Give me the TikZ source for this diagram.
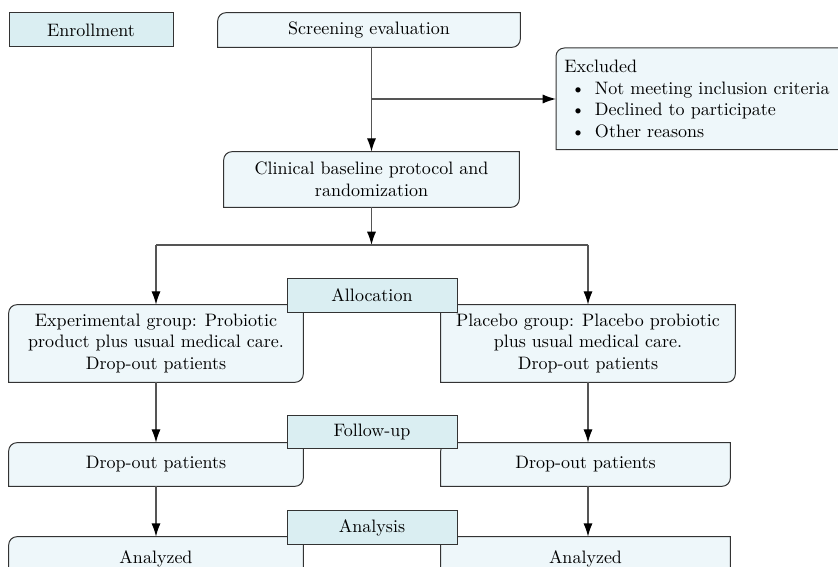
\documentclass[tikz,border=0pt]{standalone}
\usepackage{fontspec}
\usepackage{tikz}
\usetikzlibrary{arrows.meta,positioning,calc,backgrounds}
\definecolor{hcyan}{HTML}{DAEEF2}
\definecolor{bcyan}{HTML}{EEF7FA}
\definecolor{edged}{HTML}{333333}
\definecolor{lined}{HTML}{555555}
\tikzset{
  % header tag, square corners
  stage/.style = {rectangle, draw=edged, fill=hcyan, line width=0.6pt, align=center,
                  inner sep=0pt, minimum width=102pt, minimum height=20pt,
                  font=\fontsize{10.8}{13}\selectfont},
  % step box, its frame comes from \cframe
  cbox/.style  = {rectangle, align=center, inner sep=0pt,
                  font=\fontsize{10.8}{13}\selectfont},
  link/.style  = {-{Latex[length=8pt,width=5.5pt,color=black]}, lined, line width=0.8pt},
  seg/.style   = {lined, line width=0.8pt},
}
% frame with round top-left and bottom-right corners
\newcommand{\cframe}[1]{%
  \draw[edged, fill=bcyan, line width=0.6pt] (#1.south west)
    -- ([yshift=-5pt]#1.north west) arc[start angle=180, end angle=90, radius=5pt]
    -- (#1.north east)
    -- ([yshift=5pt]#1.south east) arc[start angle=0, end angle=-90, radius=5pt]
    -- cycle;}

\begin{document}
\begin{tikzpicture}[x=0.6pt,y=-0.6pt]
\useasboundingbox (0,0) rectangle (838,567);
% steps
\node[cbox, minimum width=181.2pt, minimum height=20.4pt] (scr) at (369,30) {Screening evaluation};
\node[cbox, align=left, anchor=north west, text width=168pt, inner xsep=4.8pt,
      minimum height=60.6pt] (excl) at (556,48)
  {Excluded\\
   \hspace*{4pt}\textbullet\hspace{6pt}Not meeting inclusion criteria\\
   \hspace*{4pt}\textbullet\hspace{6pt}Declined to participate\\
   \hspace*{4pt}\textbullet\hspace{6pt}Other reasons};
\node[cbox, minimum width=177pt, minimum height=33pt] (clin) at (371.5,179.5)
  {Clinical baseline protocol and\\randomization};
\node[cbox, minimum width=176.4pt, minimum height=46.2pt] (exp) at (156,343.5)
  {Experimental group: Probiotic\\product plus usual medical care.\\Drop-out patients};
\node[cbox, minimum width=176.4pt, minimum height=46.2pt] (plc) at (588,343.5)
  {Placebo group: Placebo probiotic\\plus usual medical care.\\Drop-out patients};
\node[cbox, minimum width=176.4pt, minimum height=25.8pt] (dropL) at (156,464.5) {Drop-out patients};
\node[cbox, minimum width=173.4pt, minimum height=25.8pt] (dropR) at (585.5,464.5) {Drop-out patients};
\node[cbox, minimum width=176.4pt, minimum height=25.8pt] (anzL) at (156,558.5) {Analyzed};
\node[cbox, minimum width=173.4pt, minimum height=25.8pt] (anzR) at (585.5,558.5) {Analyzed};
\begin{scope}[on background layer]
  \foreach \n in {scr,excl,clin,exp,plc,dropL,dropR,anzL,anzR} {\cframe{\n}}
\end{scope}
% stage tags
\node[stage, minimum width=98.4pt, minimum height=20.4pt] (enr) at (91,30) {Enrollment};
\node[stage] (alloc) at (372,295.5) {Allocation};
\node[stage] (follow) at (372,432) {Follow-up};
\node[stage] (anal) at (372,527.5) {Analysis};
% connectors
\coordinate (branch) at (371.5,99);
\coordinate (split) at (371.5,245);
\draw[link] (clin.north |- scr.south) -- (clin.north);
\draw[link] (branch) -- (branch -| excl.west);
\draw[link] (clin.south) -- (split);
\draw[seg] (exp.north |- split) -- (plc.north |- split);
\draw[link] (exp.north |- split) -- (exp.north);
\draw[link] (plc.north |- split) -- (plc.north);
\draw[link] (exp.south) -- (dropL.north);
\draw[link] (plc.south) -- (plc.south |- dropR.north);
\draw[link] (dropL.south) -- (anzL.north);
\draw[link] (plc.south |- dropR.south) -- (plc.south |- anzR.north);
\end{tikzpicture}
\end{document}
